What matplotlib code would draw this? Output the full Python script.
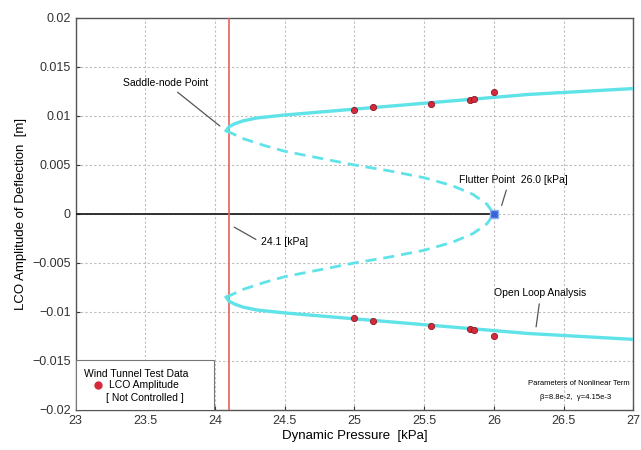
import matplotlib
matplotlib.use("Agg")
import matplotlib.pyplot as plt

# open loop analysis: stable LCO branch (solid) and unstable branch (dashed)
stable_q = [24.08, 24.10, 24.14, 24.2, 24.3, 24.5, 24.75, 25.0, 25.25, 25.5, 25.75, 26.0, 26.25, 26.5, 26.75, 27.0]
stable_up = [0.0085, 0.0089, 0.0092, 0.0095, 0.0098, 0.0101, 0.0104, 0.0107, 0.0110, 0.0113, 0.0116, 0.0119, 0.0122, 0.0124, 0.0126, 0.0128]
stable_lo = [-0.0085, -0.0089, -0.0092, -0.0095, -0.0098, -0.0101, -0.0104, -0.0107, -0.0110, -0.0113, -0.0116, -0.0119, -0.0122, -0.0124, -0.0126, -0.0128]

unstable_q = [24.08, 24.2, 24.35, 24.5, 24.75, 25.0, 25.25, 25.5, 25.7, 25.85, 25.95, 26.0]
unstable_up = [0.0085, 0.0077, 0.0070, 0.0064, 0.0057, 0.0050, 0.0044, 0.0037, 0.0029, 0.0020, 0.0010, 0.0]
unstable_lo = [-0.0085, -0.0077, -0.0070, -0.0064, -0.0057, -0.0050, -0.0044, -0.0037, -0.0029, -0.0020, -0.0010, 0.0]

# wind tunnel test data (not controlled)
test_q = [25.0, 25.13, 25.55, 25.83, 25.86, 26.0, 25.0, 25.13, 25.55, 25.83, 25.86, 26.0]
test_amp = [0.0106, 0.01095, 0.0112, 0.0116, 0.0117, 0.0124,
            -0.01065, -0.0109, -0.0114, -0.0117, -0.0118, -0.0125]

flutter_q = 26.0
saddle_q = 24.1

xticks = [23, 23.5, 24, 24.5, 25, 25.5, 26, 26.5, 27]
yticks = [-0.02, -0.015, -0.01, -0.005, 0, 0.005, 0.01, 0.015, 0.02]
ytick_labels = ['\u22120.02', '\u22120.015', '\u22120.01', '\u22120.005', '0', '0.005', '0.01', '0.015', '0.02']

plt.rcParams['font.family'] = ['Liberation Sans', 'DejaVu Sans']

fig = plt.figure(figsize=(6.41, 4.5), dpi=100)
ax = fig.add_axes([0.118, 0.089, 0.870, 0.871])

cyan = '#5fe3e8'
ax.plot([23, flutter_q], [0, 0], color='#222222', lw=1.3, zorder=3)
ax.axvline(saddle_q, color='#e8605a', lw=1.2, zorder=3)
ax.plot(stable_q, stable_up, color=cyan, lw=2.4, zorder=4)
ax.plot(stable_q, stable_lo, color=cyan, lw=2.4, zorder=4)
ax.plot(unstable_q, unstable_up, color=cyan, lw=2.0, ls=(0, (4, 2.5)), zorder=4)
ax.plot(unstable_q, unstable_lo, color=cyan, lw=2.0, ls=(0, (4, 2.5)), zorder=4)
ax.plot([flutter_q], [0], marker='s', ms=6, color='#3a63d8', mec='#8fb0f0', zorder=6)
ax.plot(test_q, test_amp, 'o', ms=4.5, color='#d42a3a', mec='#8a1a2a', mew=0.6, zorder=5)

ax.set_xlim(23, 27)
ax.set_ylim(-0.02, 0.02)
ax.set_xticks(xticks)
ax.set_xticklabels([f'{t:g}' for t in xticks])
ax.set_yticks(yticks)
ax.set_yticklabels(ytick_labels)
ax.tick_params(direction='in', labelsize=9, colors='#333333', length=3)
ax.grid(True, ls=(0, (2, 2)), color='#bdbdbd', lw=0.8)
for s in ax.spines.values():
    s.set_color('#555555')
    s.set_linewidth(1.0)

ax.set_xlabel('Dynamic Pressure  [kPa]', fontsize=9.5, labelpad=2)
ax.set_ylabel('LCO Amplitude of Deflection  [m]', fontsize=9.5, labelpad=4)

arrow = dict(arrowstyle='-', color='#555555', lw=0.9)
ax.annotate('Saddle-node Point', xy=(24.05, 0.0088), xytext=(23.34, 0.0134),
            fontsize=7.5, ha='left', va='center', arrowprops=arrow,
            annotation_clip=False)
ax.annotate('Flutter Point  26.0 [kPa]', xy=(26.05, 0.0006), xytext=(25.75, 0.0035),
            fontsize=7.5, ha='left', va='center', arrowprops=dict(arrow, relpos=(0.45, 0)))
ax.annotate('24.1 [kPa]', xy=(24.12, -0.0012), xytext=(24.33, -0.0029),
            fontsize=7.5, ha='left', va='center', arrowprops=dict(arrow, relpos=(0, 0.5)))
ax.annotate('Open Loop Analysis', xy=(26.3, -0.0118), xytext=(26.0, -0.0081),
            fontsize=7.5, ha='left', va='center', arrowprops=dict(arrow, relpos=(0.5, 0)))

# legend box
ax.text(23.06, -0.0163, 'Wind Tunnel Test Data', fontsize=7.5, ha='left', va='center', zorder=8,
        bbox=dict(boxstyle='square,pad=0.3', fc='white', ec='none'))
leg_bg = plt.Rectangle((23.0, -0.02), 0.99, 0.0051, fc='white', ec='#777777', lw=0.8, zorder=7)
ax.add_patch(leg_bg)
ax.plot([23.16], [-0.0175], 'o', ms=5, color='#d42a3a', zorder=9, clip_on=False)
ax.text(23.24, -0.0175, 'LCO Amplitude', fontsize=7.5, ha='left', va='center', zorder=9)
ax.text(23.22, -0.0188, '[ Not Controlled ]', fontsize=7.5, ha='left', va='center', zorder=9)

# nonlinear term parameters
ax.text(26.97, -0.0173, 'Parameters of Nonlinear Term', fontsize=5.5, ha='right', va='center', zorder=8)
ax.text(26.84, -0.0187, '\u03b2=8.8e-2,  \u03b3=4.15e-3', fontsize=5.5, ha='right', va='center', zorder=8)

fig.savefig('out.png', dpi=100)
